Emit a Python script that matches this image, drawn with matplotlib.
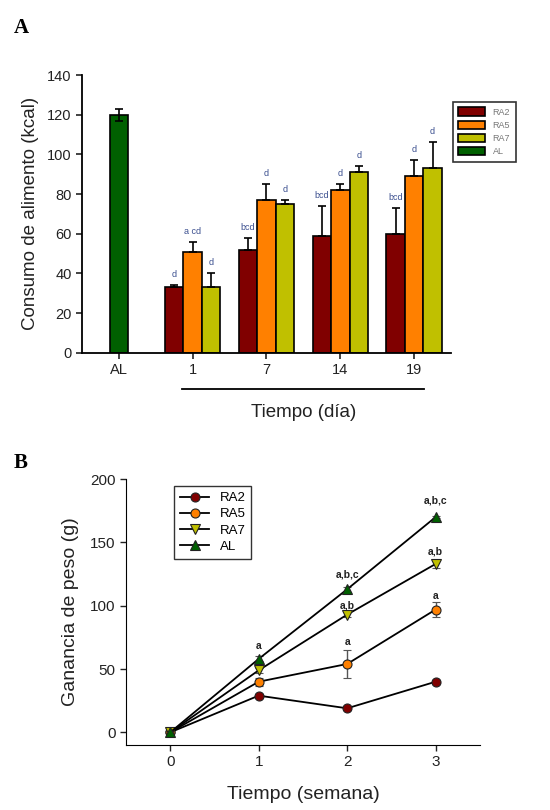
import numpy as np
import matplotlib.pyplot as plt
from matplotlib.lines import Line2D

plt.rcParams['font.family'] = ['Liberation Sans', 'DejaVu Sans']

# --- Panel A data: food intake (kcal) ---
groups = ["RA2", "RA5", "RA7"]
days = ["1", "7", "14", "19"]
al_intake = 120
al_err = 3
intake = {
    "RA2": [33, 52, 59, 60],
    "RA5": [51, 77, 82, 89],
    "RA7": [33, 75, 91, 93],
}
intake_err = {
    "RA2": [1, 6, 15, 13],
    "RA5": [5, 8, 3, 8],
    "RA7": [7, 2, 3, 13],
}
intake_lbl = {
    "RA2": ["d", "bcd", "bcd", "bcd"],
    "RA5": ["a cd", "d", "d", "d"],
    "RA7": ["d", "d", "d", "d"],
}

# --- Panel B data: weight gain (g) ---
weeks = [0, 1, 2, 3]
gain = {
    "RA2": [0, 29, 19, 40],
    "RA5": [0, 40, 54, 97],
    "RA7": [0, 49, 93, 133],
    "AL": [0, 58, 113, 170],
}
gain_err = {
    "RA2": [0, 1, 1, 1],
    "RA5": [0, 3, 11, 6],
    "RA7": [0, 2, 2, 3],
    "AL": [0, 2, 2, 1],
}
gain_lbl = [(1, 68, "a"), (2, 125, "a,b,c"), (2, 100, "a,b"), (2, 71, "a"),
            (3, 183, "a,b,c"), (3, 143, "a,b"), (3, 108, "a")]

colors = {"RA2": "#800000", "RA5": "#ff8000", "RA7": "#c0c000", "AL": "#006000"}
markers = {"RA2": "o", "RA5": "o", "RA7": "v", "AL": "^"}
txt = "#222222"

fig = plt.figure(figsize=(5.5, 8.1), dpi=100)

# ---------------- Panel A ----------------
ax = fig.add_axes([0.149, 0.5646, 0.671, 0.3428])
w = 0.25
ax.bar(0, al_intake, w, color=colors["AL"], edgecolor="black", linewidth=1.2,
       yerr=al_err, error_kw=dict(ecolor="black", elinewidth=1.2, capsize=3, capthick=1.2),
       label="AL")
for i, g in enumerate(groups):
    xs = np.arange(1, 5) + (i - 1) * w
    ax.bar(xs, intake[g], w, color=colors[g], edgecolor="black", linewidth=1.2,
           yerr=[np.zeros(4), intake_err[g]],
           error_kw=dict(ecolor="black", elinewidth=1.2, capsize=3, capthick=1.2),
           label=g)
    for x, v, e, s in zip(xs, intake[g], intake_err[g], intake_lbl[g]):
        ax.text(x, v + e + 3, s, ha="center", va="bottom", fontsize=6.5, color="#3b4f8f")

ax.set_xlim(-0.5, 4.5)
ax.set_ylim(0, 140)
ax.set_yticks(np.arange(0, 141, 20))
ax.set_xticks(range(5))
ax.set_xticklabels(["AL"] + days)
ax.tick_params(colors=txt, labelsize=10.5, direction="out", length=4, width=1.2)
for s in ["top", "right"]:
    ax.spines[s].set_visible(False)
for s in ["left", "bottom"]:
    ax.spines[s].set_linewidth(1.3)
ax.set_ylabel("Consumo de alimento (kcal)", fontsize=13.5, color=txt, labelpad=6)
ax.plot([0.855, 4.14], [-18.3, -18.3], color="black", lw=1.3, clip_on=False)
ax.text(2.5, -26, "Tiempo (día)", ha="center", va="top", fontsize=13.5, color=txt)

h, l = ax.get_legend_handles_labels()
order = [1, 2, 3, 0]
leg_a = ax.legend([h[k] for k in order], [l[k] for k in order], loc="upper left",
                  bbox_to_anchor=(0.8236, 0.874), bbox_transform=fig.transFigure,
                  borderaxespad=0, fontsize=6.5, frameon=True, fancybox=False,
                  edgecolor="black", handlelength=3.0, handleheight=1.0,
                  labelspacing=0.45, borderpad=0.6, labelcolor="#777777")
leg_a.get_frame().set_linewidth(1.2)

# ---------------- Panel B ----------------
bx = fig.add_axes([0.229, 0.0802, 0.6436, 0.3284])
handles = []
for g in ["RA2", "RA5", "RA7", "AL"]:
    bx.errorbar(weeks, gain[g], yerr=gain_err[g], color="black", lw=1.3,
                ecolor="#555555", elinewidth=1, capsize=3, capthick=1,
                marker=markers[g], markersize=6.5, markerfacecolor=colors[g],
                markeredgecolor="#222222", markeredgewidth=0.8)
    handles.append(Line2D([], [], color="black", lw=1.3, marker=markers[g],
                          markersize=6.5, markerfacecolor=colors[g],
                          markeredgecolor="#222222", markeredgewidth=0.8, label=g))
for x, y, s in gain_lbl:
    bx.text(x, y, s, ha="center", va="center", fontsize=7.5, fontweight="bold", color="#222222")

bx.set_xlim(-0.5, 3.5)
bx.set_ylim(-10, 200)
bx.set_yticks(np.arange(0, 201, 50))
bx.set_xticks(weeks)
bx.tick_params(colors=txt, labelsize=11, direction="out", length=4, width=1)
for s in ["top", "right"]:
    bx.spines[s].set_visible(False)
bx.set_xlabel("Tiempo (semana)", fontsize=14, color=txt, labelpad=12)
bx.set_ylabel("Ganancia de peso (g)", fontsize=14, color=txt, labelpad=8)
leg = bx.legend(handles=handles, loc="upper left", bbox_to_anchor=(0.136, 0.974),
                borderaxespad=0, fontsize=9.5, frameon=True, fancybox=False,
                edgecolor="black", handlelength=2.2, labelspacing=0.3, borderpad=0.45)
leg.get_frame().set_linewidth(1)

fig.text(0.025, 0.965, "A", fontsize=15, fontweight="bold", family="Liberation Serif", va="center")
fig.text(0.025, 0.428, "B", fontsize=15, fontweight="bold", family="Liberation Serif", va="center")

fig.savefig("out.png", dpi=100)
